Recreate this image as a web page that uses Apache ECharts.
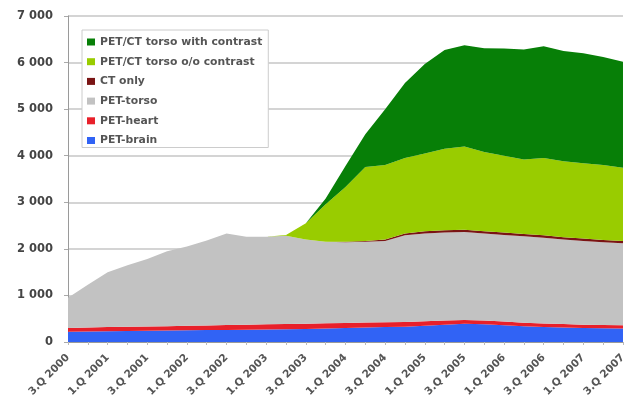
<!DOCTYPE html>
<html>
<head>
<meta charset="utf-8">
<script src="https://cdn.jsdelivr.net/npm/echarts@6/dist/echarts.min.js"></script>
<style>
html,body{margin:0;padding:0;background:#fff;}
#c{width:629px;height:414px;}
</style>
</head>
<body>
<div id="c"></div>
<script>
const categories = [
  "3.Q 2000","4.Q 2000","1.Q 2001","2.Q 2001","3.Q 2001","4.Q 2001",
  "1.Q 2002","2.Q 2002","3.Q 2002","4.Q 2002","1.Q 2003","2.Q 2003",
  "3.Q 2003","4.Q 2003","1.Q 2004","2.Q 2004","3.Q 2004","4.Q 2004",
  "1.Q 2005","2.Q 2005","3.Q 2005","4.Q 2005","1.Q 2006","2.Q 2006",
  "3.Q 2006","4.Q 2006","1.Q 2007","2.Q 2007","3.Q 2007"
];
const petBrain = [220,225,230,235,240,245,250,255,260,265,270,275,280,290,300,310,320,330,350,370,390,380,360,340,320,310,300,295,290];
const petHeart = [80,85,90,90,95,95,100,100,105,105,110,110,110,110,110,110,105,100,95,90,85,80,80,75,75,75,70,70,70];
const petTorso = [650,920,1180,1325,1445,1610,1700,1825,1965,1890,1880,1895,1810,1750,1730,1730,1745,1860,1885,1890,1885,1870,1860,1855,1845,1815,1800,1775,1760];
const ctOnly   = [0,0,0,0,0,0,0,0,0,0,0,0,0,0,10,20,30,40,50,50,50,50,50,50,50,50,50,50,50];
const petctNoContrast = [0,0,0,0,0,0,0,0,0,0,0,20,350,810,1180,1590,1600,1620,1670,1750,1790,1700,1650,1600,1660,1630,1620,1610,1570];
const petctContrast   = [0,0,0,0,0,0,0,0,0,0,0,0,0,120,450,700,1200,1610,1920,2120,2170,2230,2300,2360,2400,2370,2360,2320,2280];
const legendOrder = ["PET/CT torso with contrast","PET/CT torso o/o contrast","CT only","PET-torso","PET-heart","PET-brain"];

const seriesDefs = [
  {name:"PET-brain", data:petBrain, color:"#3163f5"},
  {name:"PET-heart", data:petHeart, color:"#e8202a"},
  {name:"PET-torso", data:petTorso, color:"#c2c2c2"},
  {name:"CT only", data:ctOnly, color:"#7a1414"},
  {name:"PET/CT torso o/o contrast", data:petctNoContrast, color:"#99cc00"},
  {name:"PET/CT torso with contrast", data:petctContrast, color:"#077f07"}
];

const fmt = v => String(v).replace(/\B(?=(\d{3})+(?!\d))/g, " ");

const chart = echarts.init(document.getElementById('c'), null, {renderer:'canvas'});
chart.setOption({
  animation:false,
  backgroundColor:'#ffffff',
  grid:{left:68, right:4, top:16, bottom:72, containLabel:false},
  legend:{
    orient:'vertical', left:82, top:30,
    data:legendOrder,
    itemWidth:8, itemHeight:7, itemGap:7.7, icon:'rect',
    padding:[6,6,1,5],
    backgroundColor:'#ffffff', borderColor:'#cccccc', borderWidth:1,
    textStyle:{fontFamily:'DejaVu Sans', fontWeight:'bold', fontSize:10.8, color:'#555', lineHeight:12}
  },
  xAxis:{
    type:'category', data:categories, boundaryGap:false,
    axisLine:{lineStyle:{color:'#9a9a9a', width:1}},
    axisTick:{show:true, interval:0, length:3, lineStyle:{color:'#bbb'}},
    axisLabel:{interval:1, rotate:45, margin:14, fontFamily:'DejaVu Sans', fontWeight:'bold', fontSize:10.5, color:'#555'},
    splitLine:{show:false}
  },
  yAxis:{
    type:'value', min:0, max:7000, interval:1000,
    axisLine:{show:true, lineStyle:{color:'#9a9a9a', width:1}},
    axisTick:{show:true, length:4, lineStyle:{color:'#aaa'}},
    axisLabel:{formatter:v=>fmt(v), fontFamily:'DejaVu Sans', fontWeight:'bold', fontSize:11.5, color:'#444', margin:15},
    splitLine:{show:true, lineStyle:{color:'#d4d4d4', width:2}}
  },
  series: seriesDefs.map(s=>({
    name:s.name, type:'line', stack:'total', data:s.data,
    showSymbol:false, symbol:'none',
    lineStyle:{width:0, color:s.color},
    itemStyle:{color:s.color},
    areaStyle:{color:s.color, opacity:1},
    emphasis:{disabled:true}
  }))
});
</script>
</body>
</html>
